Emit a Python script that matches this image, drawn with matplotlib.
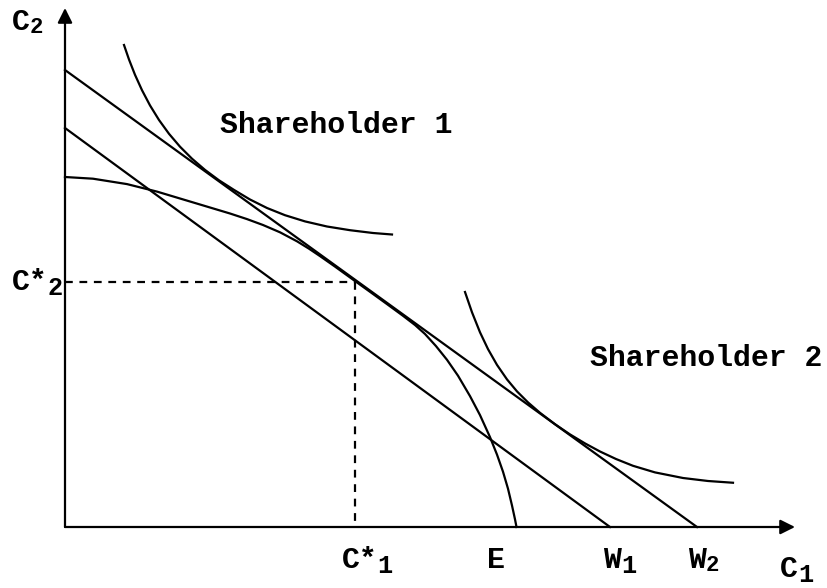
import matplotlib
matplotlib.use("Agg")
import matplotlib.pyplot as plt

# ---- data (diagram units: origin at the axes corner) ----
upper_line_x = [0, 632]
upper_line_y = [457, 0]
lower_line_x = [0, 545]
lower_line_y = [399, 0]

frontier_x = [0, 28, 62, 92, 128, 165, 182, 198, 215, 232, 244, 255, 270, 288,
              305, 322, 338, 350, 360, 371, 382, 393, 405, 415, 425, 432, 438,
              443, 447, 450, 451.5]
frontier_y = [350, 348.3, 342.9, 335.4, 324.6, 313.5, 307.9, 302.0, 294.7,
              285.7, 278.3, 270.9, 260.4, 247.4, 235.2, 222.9, 211.2, 202.0,
              193.0, 180.9, 167.2, 151.3, 130.9, 111.9, 89.9, 72.4, 55.3, 38.3,
              21.5, 7.7, 0]

ic1_x = [59, 64, 70, 77, 85, 94, 104, 115, 127, 140, 154, 169, 185, 202, 220,
         240, 262, 285, 308, 327]
ic1_y = [482, 467.5, 452.2, 436.8, 421.6, 407.0, 393.2, 380.3, 368.3, 357.1,
         346.7, 337.1, 327.5, 319.0, 311.8, 305.6, 300.5, 296.8, 294.0, 292.5]

ic2_x = [400, 407, 415, 423, 432, 442, 452, 463, 475, 490, 505, 520, 535, 551,
         568, 590, 618, 643, 668]
ic2_y = [235, 214.7, 194.7, 177.9, 162.1, 147.6, 135.6, 124.6, 114.2, 102.8,
         92.6, 83.6, 75.5, 68.0, 61.2, 54.6, 49.0, 46.0, 44.25]

c_star = (290, 245)
tick_x = {"E": 452, "W1": 545, "W2": 632}

labels_text = ["Shareholder 1", "Shareholder 2"]
labels_pos = [(271, 402), (641, 169)]

FONT = ["Liberation Mono", "DejaVu Sans Mono"]
FS = 21.5

fig = plt.figure(figsize=(8.28, 5.88), dpi=100)
ax = fig.add_axes([0, 0, 1, 1])
ax.set_xlim(-65, 763)
ax.set_ylim(-61, 527)
ax.axis("off")

lw = 1.6
# axes with arrows
ax.annotate("", xy=(0, 519), xytext=(0, 0),
            arrowprops=dict(arrowstyle="-|>", lw=lw, color="black",
                            mutation_scale=22, shrinkA=0, shrinkB=0))
ax.annotate("", xy=(730, 0), xytext=(0, 0),
            arrowprops=dict(arrowstyle="-|>", lw=lw, color="black",
                            mutation_scale=22, shrinkA=0, shrinkB=0))

ax.plot(upper_line_x, upper_line_y, color="black", lw=lw)
ax.plot(lower_line_x, lower_line_y, color="black", lw=lw)
ax.plot(frontier_x, frontier_y, color="black", lw=lw, solid_joinstyle="round")
ax.plot(ic1_x, ic1_y, color="black", lw=lw, solid_joinstyle="round")
ax.plot(ic2_x, ic2_y, color="black", lw=lw, solid_joinstyle="round")

# dashed guides
ax.plot([0, c_star[0]], [c_star[1], c_star[1]], color="black", lw=lw,
        linestyle=(0, (3.5, 3)))
ax.plot([c_star[0], c_star[0]], [c_star[1], 0], color="black", lw=lw,
        linestyle=(0, (3.5, 3)))


def label(x, y, main, sub=None, ha="left", sub_scale=0.85):
    t = ax.text(x, y, main, family=FONT, fontsize=FS, fontweight="bold",
                ha=ha, va="center", color="black")
    if sub is not None:
        ax.annotate(sub, xy=(1, 0.3), xycoords=t, family=FONT,
                    fontsize=FS * sub_scale, fontweight="bold",
                    ha="left", va="center", color="black")
    return t


label(-53, 505, "C", "2", sub_scale=0.75)
label(-53, 245, "C*", "2")
label(c_star[0] - 13, -33, "C*", "1")
label(tick_x["E"] - 30, -33, "E")
label(tick_x["W1"] - 7, -33, "W", "1")
label(tick_x["W2"] - 9, -33, "W", "2", sub_scale=0.75)
label(715, -42, "C", "1")

for txt, (x, y) in zip(labels_text, labels_pos):
    ax.text(x, y, txt, family=FONT, fontsize=FS, fontweight="bold",
            ha="center", va="center", color="black")

fig.savefig("out.png", dpi=100, facecolor="white")
